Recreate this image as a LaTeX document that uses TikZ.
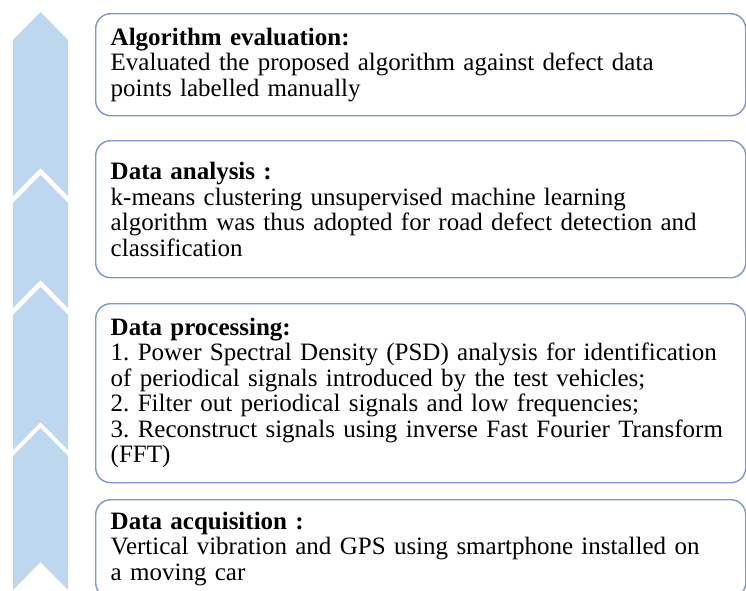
\documentclass[tikz,border=0pt]{standalone}
\usepackage{fontspec}
\setmainfont{Liberation Serif}
\usepackage{xcolor}
\definecolor{chevron}{RGB}{189,215,238}
\definecolor{boxline}{RGB}{127,151,198}
\tikzset{
  stage/.style={draw=boxline, line width=1.4pt, rounded corners=15pt,
    anchor=north west, minimum width=650pt, text width=620pt,
    inner xsep=15pt, align=left, font=\fontsize{25}{25.5}\selectfont\frenchspacing},
}

\begin{document}
\begin{tikzpicture}[x=1pt,y=-1pt]
    \clip (0,0) rectangle (746,590);
    \fill[white] (0,0) rectangle (746,590);

    % Chevron column
    \fill[chevron] (40.5,12) -- (68,40) -- (68,196) -- (40.5,168) -- (13,196) -- (13,40) -- cycle;
    \fill[chevron] (40.5,175) -- (68,203) -- (68,308) -- (40.5,280) -- (13,308) -- (13,203) -- cycle;
    \fill[chevron] (40.5,287) -- (68,315) -- (68,450) -- (40.5,422) -- (13,450) -- (13,315) -- cycle;
    \fill[chevron] (40.5,428) -- (68,456) -- (68,590) -- (40.5,562) -- (13,590) -- (13,456) -- cycle;

    % Stages
    \node (eval) at (95,13) [stage, minimum height=102pt]
      {\textbf{Algorithm evaluation:}\\
       Evaluated the proposed algorithm against defect data\\
       points labelled manually};

    \node (analysis) at (95,140) [stage, minimum height=137pt]
      {\textbf{Data analysis :}\\
       k-means clustering unsupervised machine learning\\
       algorithm was thus adopted for road defect detection and\\
       classification};

    \node (process) at (95,303) [stage, minimum height=179pt]
      {\textbf{Data processing:}\\
       1. Power Spectral Density (PSD) analysis for identification\\
       of periodical signals introduced by the test vehicles;\\
       2. Filter out periodical signals and low frequencies;\\
       3. Reconstruct signals using inverse Fast Fourier Transform\\
       (FFT)};

    \node (acquire) at (95,499) [stage, minimum height=98pt]
      {\textbf{Data acquisition :}\\
       Vertical vibration and GPS using smartphone installed on\\
       a moving car};
\end{tikzpicture}
\end{document}
